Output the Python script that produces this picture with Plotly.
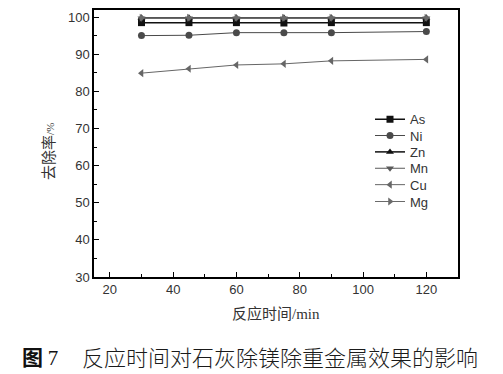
import plotly.graph_objects as go

times = [30, 45, 60, 75, 90, 120]
as_vals = [98.5, 98.5, 98.5, 98.4, 98.5, 98.5]
ni_vals = [95.0, 95.1, 95.8, 95.8, 95.8, 96.1]
zn_vals = [99.8, 99.8, 99.8, 99.8, 99.8, 99.8]
mn_vals = [99.7, 99.7, 99.7, 99.7, 99.7, 99.7]
cu_vals = [84.9, 86.1, 87.1, 87.4, 88.2, 88.6]
mg_vals = [99.8, 99.8, 99.8, 99.8, 99.8, 99.8]

series = [
    ("As", as_vals, "square", "#111111", 1.5),
    ("Ni", ni_vals, "circle", "#4a4a4a", 1.0),
    ("Zn", zn_vals, "triangle-up", "#111111", 1.5),
    ("Mn", mn_vals, "triangle-down", "#5a5a5a", 1.0),
    ("Cu", cu_vals, "triangle-left", "#666666", 1.0),
    ("Mg", mg_vals, "triangle-right", "#6a6a6a", 1.0),
]

# figure geometry (page has 8px body margin)
W, H = 495, 366
L, R, T, B = 86, 45, 0, 97
PW, PH = W - L - R, H - T - B


def px(fx):
    return (fx - L) / PW


def py(fy):
    return (H - B - fy) / PH


legend_names = ["legend", "legend2", "legend3", "legend4", "legend5", "legend6"]
legend_y = [110, 126.5, 143, 159.5, 176, 193]

fig = go.Figure()
for i, (name, vals, sym, col, lw) in enumerate(series):
    fig.add_trace(go.Scatter(
        x=times, y=vals, name=name, mode="lines+markers",
        line=dict(color=col, width=lw),
        marker=dict(symbol=sym, size=7, color=col),
        legend=legend_names[i],
    ))

axis_common = dict(
    showline=True, linecolor="black", linewidth=1.5, mirror=True,
    ticks="inside", ticklen=5, tickwidth=1.2, tickcolor="black",
    showgrid=False, zeroline=False,
    tickfont=dict(family="Liberation Sans, Arial", size=13, color="#333333"),
    minor=dict(ticks="inside", ticklen=3, tickwidth=1, tickcolor="black"),
)

legend_layout = {}
for ln, ly in zip(legend_names, legend_y):
    legend_layout[ln] = dict(
        x=px(362), y=py(ly), xanchor="left", yanchor="middle",
        bgcolor="rgba(0,0,0,0)", borderwidth=0,
        font=dict(family="Liberation Sans, Arial", size=13, color="#333333"),
        itemwidth=30, tracegroupgap=0,
    )

fig.update_layout(
    width=W, height=H,
    margin=dict(l=L, r=R, t=T, b=B),
    paper_bgcolor="white", plot_bgcolor="white",
    showlegend=True,
    xaxis=dict(range=[15, 130], tickvals=[20, 40, 60, 80, 100, 120],
               minor_dtick=10, **axis_common),
    yaxis=dict(range=[30, 101.9], tickvals=[30, 40, 50, 60, 70, 80, 90, 100],
               minor_dtick=5, **axis_common),
    **legend_layout,
)

# axis titles
fig.add_annotation(
    x=px(268), y=py(305), xref="paper", yref="paper",
    xanchor="center", yanchor="middle", showarrow=False,
    text='反应时间<span style="font-family:Liberation Serif">/min</span>',
    font=dict(family="Noto Sans CJK SC", size=15, color="#333333"),
)
fig.add_annotation(
    x=px(40), y=py(143), xref="paper", yref="paper",
    xanchor="center", yanchor="middle", showarrow=False, textangle=-90,
    text='去除率<span style="font-family:Liberation Serif;font-size:11px">/%</span>',
    font=dict(family="Noto Sans CJK SC", size=15, color="#333333"),
)

# caption
fig.add_annotation(
    x=px(12), y=py(349), xref="paper", yref="paper",
    xanchor="left", yanchor="middle", showarrow=False,
    text='<b>图</b> <span style="font-family:Liberation Serif">7</span>',
    font=dict(family="Noto Sans CJK SC", size=21, color="#111111"),
)
fig.add_annotation(
    x=px(72), y=py(349), xref="paper", yref="paper",
    xanchor="left", yanchor="middle", showarrow=False,
    text='反应时间对石灰除镁除重金属效果的影响',
    font=dict(family="Noto Sans CJK SC", size=22, color="#1a1a1a", weight=300),
)

fig.write_html("out.html")
